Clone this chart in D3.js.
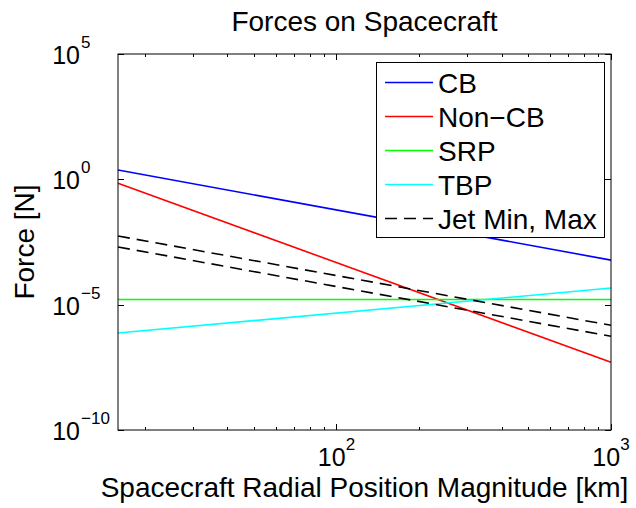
<!DOCTYPE html>
<html>
<head>
<meta charset="utf-8">
<script src="https://cdn.jsdelivr.net/npm/d3@7"></script>
<style>
  body { margin: 0; background: #fff; }
  text { font-family: "Liberation Sans", Arial, sans-serif; fill: #000; }
</style>
</head>
<body>
<div id="chart"></div>
<script>
// radial position [km] at the two ends of each line
const radius = [16, 1000];
// forces [N]
const cbForce = [2.35, 6.0e-4];
const nonCbForce = [0.7, 5.0e-8];
const srpForce = [1.6e-5, 1.6e-5];
const tbpForce = [7.4e-7, 4.6e-5];
const jetMax = [5.5e-3, 1.5e-6];
const jetMin = [2.0e-3, 5.5e-7];

const seriesNames = ["CB", "Non\u2212CB", "SRP", "TBP", "Jet Min, Max"];
const yTickExps = [5, 0, -5, -10];
const xTickExps = [2, 3];

const series = [
  { name: "CB", vals: cbForce, color: "#0000ff", dash: null },
  { name: "Non-CB", vals: nonCbForce, color: "#ff0000", dash: null },
  { name: "SRP", vals: srpForce, color: "#00ff00", dash: null },
  { name: "TBP", vals: tbpForce, color: "#00ffff", dash: null },
  { name: "JetMax", vals: jetMax, color: "#000", dash: "12,7" },
  { name: "JetMin", vals: jetMin, color: "#000", dash: "12,7" }
];

const W = 636, H = 508;
const margin = { left: 118, right: 611, top: 54, bottom: 430 };

const svg = d3.select("#chart").append("svg")
  .attr("width", W)
  .attr("height", H);

const x = d3.scaleLog().domain([16, 1000]).range([margin.left, margin.right]);
const y = d3.scaleLog().domain([1e-10, 1e5]).range([margin.bottom, margin.top]);

const line = d3.line()
  .x(d => x(d[0]))
  .y(d => y(d[1]));

// lines
svg.append("g").selectAll("path")
  .data(series)
  .enter()
  .append("path")
  .attr("d", s => line(radius.map((r, i) => [r, s.vals[i]])))
  .attr("fill", "none")
  .attr("stroke", s => s.color)
  .attr("stroke-width", 1.6)
  .attr("stroke-dasharray", s => s.dash);

// box
svg.append("rect")
  .attr("x", margin.left).attr("y", margin.top)
  .attr("width", margin.right - margin.left).attr("height", margin.bottom - margin.top)
  .attr("fill", "none").attr("stroke", "#000").attr("stroke-width", 1);

// x ticks (inward, bottom and top)
const xt = x.ticks().filter(t => t > 16);
const ticks = svg.append("g").attr("stroke", "#000").attr("stroke-width", 1);
xt.forEach(t => {
  const major = Math.abs(Math.log10(t) - Math.round(Math.log10(t))) < 1e-9;
  const len = major ? 6 : 3;
  const px = Math.round(x(t)) + 0.5;
  ticks.append("line").attr("x1", px).attr("x2", px).attr("y1", margin.bottom).attr("y2", margin.bottom - len);
  ticks.append("line").attr("x1", px).attr("x2", px).attr("y1", margin.top).attr("y2", margin.top + len);
});
// y ticks (inward, left and right)
yTickExps.forEach(e => {
  const py = Math.round(y(Math.pow(10, e))) + 0.5;
  ticks.append("line").attr("x1", margin.left).attr("x2", margin.left + 6).attr("y1", py).attr("y2", py);
  ticks.append("line").attr("x1", margin.right).attr("x2", margin.right - 6).attr("y1", py).attr("y2", py);
});

// y tick labels
yTickExps.forEach(e => {
  const py = y(Math.pow(10, e));
  svg.append("text")
    .attr("x", 80).attr("y", py + 10)
    .attr("text-anchor", "end")
    .style("font-size", "25px")
    .text("10");
  svg.append("text")
    .attr("x", 81).attr("y", py - 6)
    .style("font-size", "17px")
    .text(e < 0 ? "\u2212" + (-e) : String(e));
});

// x tick labels
xTickExps.forEach(e => {
  const t = svg.append("text")
    .attr("x", x(Math.pow(10, e))).attr("y", 466)
    .attr("text-anchor", "middle")
    .style("font-size", "25px");
  t.append("tspan").text("10");
  t.append("tspan").attr("dy", -16).style("font-size", "17px").text(String(e));
});

// title and axis labels
svg.append("text")
  .attr("x", (margin.left + margin.right) / 2).attr("y", 31)
  .attr("text-anchor", "middle")
  .style("font-size", "28px")
  .text("Forces on Spacecraft");

svg.append("text")
  .attr("x", (margin.left + margin.right) / 2).attr("y", 497)
  .attr("text-anchor", "middle")
  .style("font-size", "28px")
  .text("Spacecraft Radial Position Magnitude [km]");

svg.append("text")
  .attr("transform", `translate(34, ${(margin.top + margin.bottom) / 2}) rotate(-90)`)
  .attr("text-anchor", "middle")
  .style("font-size", "28px")
  .text("Force [N]");

// legend
const legend = svg.append("g");
legend.append("rect")
  .attr("x", 376.5).attr("y", 62.5)
  .attr("width", 228).attr("height", 175)
  .attr("fill", "#fff").attr("stroke", "#000").attr("stroke-width", 1);

const legendItems = [
  { color: "#0000ff", dash: null },
  { color: "#ff0000", dash: null },
  { color: "#00ff00", dash: null },
  { color: "#00ffff", dash: null },
  { color: "#000", dash: "12,7" }
];
seriesNames.forEach((name, i) => {
  const ly = 82.5 + i * 34;
  legend.append("line")
    .attr("x1", 385).attr("x2", 433)
    .attr("y1", ly).attr("y2", ly)
    .attr("stroke", legendItems[i].color)
    .attr("stroke-width", 1.6)
    .attr("stroke-dasharray", legendItems[i].dash);
  legend.append("text")
    .attr("x", 438).attr("y", ly + 10)
    .style("font-size", "28px")
    .text(name);
});
</script>
</body>
</html>
